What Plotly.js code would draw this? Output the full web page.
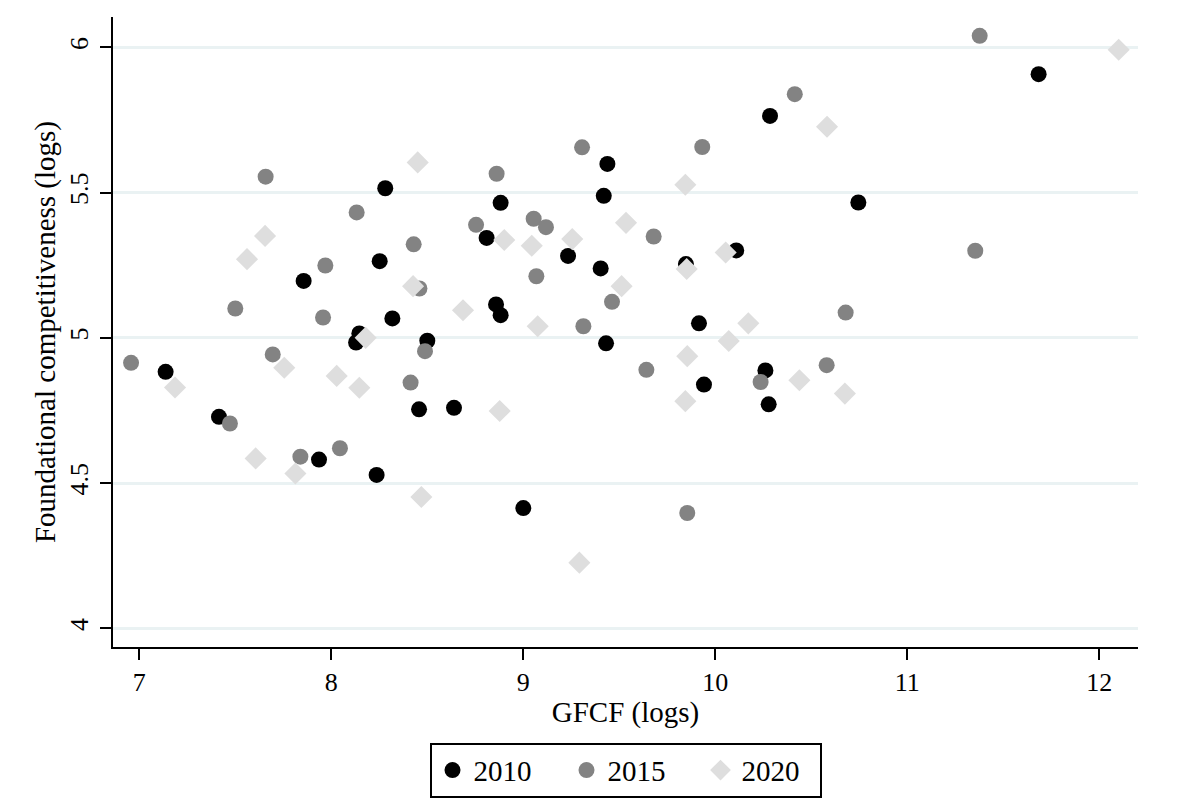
<!DOCTYPE html>
<html>
<head>
<meta charset="utf-8">
<script src="https://cdn.plot.ly/plotly-3.0.1.min.js"></script>
<style>
  html, body { margin: 0; padding: 0; background: #ffffff; }
  #chart { width: 1200px; height: 806px; }
</style>
</head>
<body>
<div id="chart"></div>
<script>
// Series 2010 (black circles)
const x2010 = [7.137, 7.415, 7.856, 7.936, 8.129, 8.146, 8.236, 8.252, 8.281, 8.318,
               8.457, 8.500, 8.639, 8.809, 8.858, 8.882, 8.882, 9.000, 9.233, 9.403,
               9.419, 9.431, 9.438, 9.847, 9.915, 9.941, 10.109, 10.261, 10.278, 10.285,
               10.745, 11.684];
const y2010 = [4.883, 4.728, 5.196, 4.581, 4.984, 5.015, 4.528, 5.264, 5.515, 5.067,
               4.754, 4.990, 4.759, 5.344, 5.115, 5.078, 5.465, 4.414, 5.282, 5.239,
               5.489, 4.981, 5.599, 5.254, 5.050, 4.839, 5.301, 4.888, 4.771, 5.764,
               5.466, 5.908];

// Series 2015 (gray circles)
const x2015 = [6.957, 7.472, 7.500, 7.658, 7.695, 7.839, 7.957, 7.969, 8.045, 8.132,
               8.413, 8.429, 8.459, 8.488, 8.754, 8.861, 9.054, 9.068, 9.118, 9.306,
               9.313, 9.462, 9.641, 9.679, 9.854, 9.932, 10.236, 10.414, 10.580, 10.679,
               11.354, 11.377];
const y2015 = [4.914, 4.705, 5.101, 5.555, 4.943, 4.591, 5.070, 5.249, 4.620, 5.432,
               4.846, 5.322, 5.170, 4.954, 5.389, 5.565, 5.410, 5.212, 5.381, 5.656,
               5.040, 5.124, 4.890, 5.349, 4.397, 5.657, 4.848, 5.839, 4.906, 5.087,
               5.300, 6.040];

// Series 2020 (light gray diamonds)
const x2020 = [7.186, 7.561, 7.606, 7.655, 7.755, 7.813, 8.028, 8.146, 8.179, 8.426,
               8.450, 8.469, 8.686, 8.877, 8.901, 9.044, 9.075, 9.255, 9.292, 9.512,
               9.535, 9.844, 9.851, 9.844, 9.854, 10.054, 10.070, 10.172, 10.438, 10.582,
               10.675, 12.101];
const y2020 = [4.829, 5.271, 4.585, 5.351, 4.897, 4.533, 4.869, 4.828, 5.000, 5.178,
               5.604, 4.452, 5.095, 4.748, 5.337, 5.317, 5.040, 5.340, 4.226, 5.178,
               5.396, 5.527, 5.237, 4.782, 4.937, 5.294, 4.989, 5.050, 4.854, 5.727,
               4.808, 5.992];

const seriesNames = ["2010", "2015", "2020"];
const xTicks = [7, 8, 9, 10, 11, 12];
const yTicks = [4, 4.5, 5, 5.5, 6];
const yTickLabels = ["4", "4.5", "5", "5.5", "6"];

const FONT = '"Liberation Serif", "Times New Roman", Times, serif';
const PAD = '\u00A0\u00A0\u00A0\u00A0';
const PAD_END = '\u00A0\u00A0';

const traces = [
  { x: x2010, y: y2010, name: seriesNames[0] + PAD, type: 'scatter', mode: 'markers',
    marker: { symbol: 'circle', size: 16, color: '#000000', line: { width: 0 } } },
  { x: x2015, y: y2015, name: seriesNames[1] + PAD, type: 'scatter', mode: 'markers',
    marker: { symbol: 'circle', size: 16, color: '#838383', line: { width: 0 } } },
  { x: x2020, y: y2020, name: seriesNames[2] + PAD_END, type: 'scatter', mode: 'markers',
    marker: { symbol: 'diamond', size: 17, color: '#dedede', line: { width: 0 } } }
];

const layout = {
  width: 1200, height: 806,
  paper_bgcolor: '#ffffff', plot_bgcolor: '#ffffff',
  font: { family: FONT, color: '#000000', size: 26 },
  margin: { l: 113, r: 62, t: 17, b: 159, autoexpand: false },
  showlegend: true,
  legend: {
    orientation: 'h', x: 0.5, xanchor: 'center', y: -0.152, yanchor: 'top',
    bordercolor: '#000000', borderwidth: 2, bgcolor: '#ffffff',
    itemwidth: 32,
    font: { family: FONT, size: 29, color: '#000000' }
  },
  xaxis: {
    range: [6.863, 12.2016], autorange: false,
    tickvals: xTicks, ticktext: xTicks.map(String),
    ticks: 'outside', ticklen: 11, tickwidth: 2, tickcolor: '#000000',
    showline: true, linecolor: '#000000', linewidth: 2,
    showgrid: false, zeroline: false,
    tickfont: { family: FONT, size: 26 },
    title: { text: 'GFCF (logs)', font: { family: FONT, size: 29 }, standoff: 5 },
    automargin: false
  },
  yaxis: {
    range: [3.9356, 6.1047], autorange: false,
    tickvals: yTicks, ticktext: yTickLabels, tickangle: -90,
    ticks: 'outside', ticklen: 11, tickwidth: 2, tickcolor: '#000000',
    ticklabelstandoff: 2,
    showline: true, linecolor: '#000000', linewidth: 2,
    showgrid: true, gridcolor: '#eaf2f3', gridwidth: 3, zeroline: false,
    tickfont: { family: FONT, size: 26 },
    title: { text: 'Foundational competitiveness (logs)', font: { family: FONT, size: 29 }, standoff: 0 },
    automargin: false
  }
};

Plotly.newPlot('chart', traces, layout, { staticPlot: true, displayModeBar: false });
</script>
</body>
</html>
